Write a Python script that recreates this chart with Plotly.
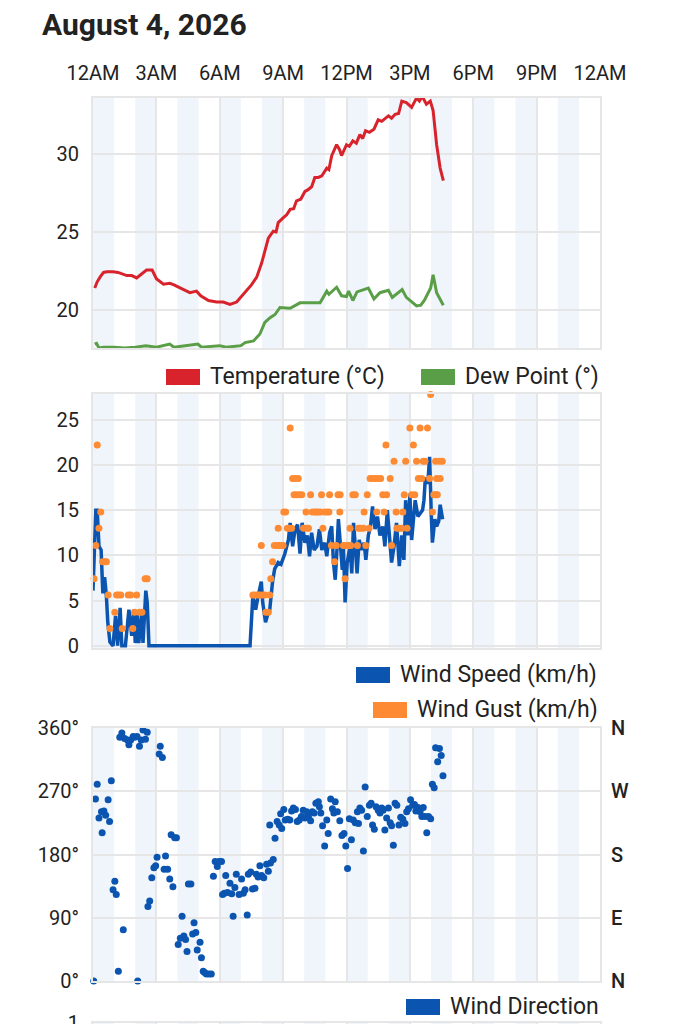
import plotly.graph_objects as go
import pandas as pd

DAY = "2026-08-04"
TITLE = "August 4, 2026"
TICK_HOURS = [0, 3, 6, 9, 12, 15, 18, 21, 24]
TICK_LABELS = ["12AM", "3AM", "6AM", "9AM", "12PM", "3PM", "6PM", "9PM", "12AM"]

# temperature / dew point (°C)
TEMP_TIMES = ["00:05", "00:12", "00:20", "00:30", "00:39", "00:57", "01:11", "01:22", "01:36", "01:50",
              "02:04", "02:18", "02:32", "02:48", "03:00", "03:20", "03:38", "03:50", "04:17", "04:35",
              "04:54", "05:06", "05:28", "05:51", "06:10", "06:29", "06:48", "07:07", "07:21", "07:30",
              "07:45", "07:59", "08:18", "08:32", "08:40", "08:46", "09:00", "09:10", "09:20", "09:30",
              "09:38", "09:50", "10:02", "10:10", "10:21", "10:30", "10:40", "10:50", "11:04", "11:10",
              "11:18", "11:32", "11:40", "11:46", "12:00", "12:08", "12:18", "12:28", "12:38", "12:46",
              "12:54", "13:05", "13:18", "13:30", "13:40", "13:50", "13:59", "14:08", "14:18", "14:28",
              "14:37", "14:50", "15:05", "15:12", "15:19", "15:27", "15:35", "15:47", "15:58", "16:06",
              "16:16", "16:26", "16:35"]
TEMP_C = [21.4, 21.8, 22.1, 22.4, 22.45, 22.45, 22.4, 22.3, 22.2, 22.2,
          22.05, 22.3, 22.55, 22.55, 22.0, 21.65, 21.7, 21.6, 21.3, 21.1,
          21.2, 20.9, 20.6, 20.5, 20.5, 20.35, 20.5, 21.0, 21.3, 21.6,
          22.1, 23.0, 24.6, 25.05, 25.0, 25.6, 25.9, 26.1, 26.45, 26.5,
          27.0, 27.1, 27.6, 27.7, 27.9, 28.5, 28.5, 28.6, 29.1, 29.0,
          29.9, 30.6, 30.3, 29.9, 30.6, 30.5, 30.85, 30.7, 31.25, 31.0,
          31.5, 31.4, 31.6, 32.2, 32.1, 32.3, 32.45, 32.3, 32.55, 32.6,
          33.4, 33.3, 33.0, 33.3, 33.6, 33.4, 33.7, 33.2, 33.4, 32.8,
          30.6, 29.1, 28.3]

DEW_TIMES = ["00:05", "00:10", "00:17", "00:30", "01:00", "01:30", "02:00", "02:30", "03:00", "03:38",
             "03:50", "04:20", "04:58", "05:08", "05:40", "06:00", "06:18", "07:00", "07:12", "07:36",
             "07:54", "08:08", "08:23", "08:37", "08:51", "09:20", "09:48", "10:45", "11:04", "11:10",
             "11:32", "11:46", "12:00", "12:06", "12:18", "12:30", "13:02", "13:18", "13:35", "13:59",
             "14:10", "14:38", "14:50", "15:19", "15:31", "15:41", "15:59", "16:06", "16:16", "16:35"]
DEW_C = [17.8, 17.85, 17.55, 17.6, 17.6, 17.55, 17.6, 17.7, 17.6, 17.8,
         17.6, 17.7, 17.8, 17.6, 17.65, 17.7, 17.6, 17.7, 17.9, 18.0,
         18.45, 19.2, 19.5, 19.7, 20.15, 20.1, 20.45, 20.45, 21.2, 21.0,
         21.45, 20.9, 20.85, 21.2, 20.6, 21.15, 21.4, 20.7, 21.1, 21.25,
         20.8, 21.3, 20.8, 20.25, 20.3, 20.6, 21.4, 22.25, 21.1, 20.3]

# wind speed / gust (km/h)
WIND_TIMES = ["00:00", "00:08", "00:12", "00:17", "00:23", "00:28", "00:33", "00:38", "00:42", "00:48",
              "00:57", "01:04", "01:10", "01:17", "01:22", "01:32", "01:42", "01:50", "01:56", "02:00",
              "02:05", "02:10", "02:18", "02:22", "02:30", "02:34", "02:39", "07:26", "07:34", "07:42",
              "07:48", "07:58", "08:02", "08:10", "08:15", "08:22", "08:30", "08:36", "08:46", "08:54",
              "09:05", "09:15", "09:20", "09:27", "09:34", "09:41", "09:48", "09:54", "10:02", "10:09",
              "10:15", "10:21", "10:28", "10:36", "10:43", "10:50", "10:58", "11:04", "11:12", "11:18",
              "11:23", "11:28", "11:32", "11:37", "11:43", "11:48", "11:51", "11:56", "12:02", "12:10",
              "12:15", "12:20", "12:25", "12:30", "12:36", "12:43", "12:50", "12:55", "13:02", "13:08",
              "13:14", "13:21", "13:28", "13:35", "13:43", "13:49", "13:56", "14:02", "14:08", "14:15",
              "14:22", "14:30", "14:37", "14:43", "14:48", "14:55", "15:00", "15:05", "15:10", "15:15",
              "15:23", "15:29", "15:36", "15:40", "15:44", "15:51", "15:56", "16:01", "16:04", "16:11",
              "16:16", "16:22", "16:26", "16:33"]
WIND_KMH = [6.1, 15.0, 15.0, 11.0, 10.6, 5.8, 7.6, 5.5, 2.6, 0.4,
            0.0, 3.3, 0.0, 4.2, 0.0, 0.0, 4.0, 1.1, 4.0, 0.3,
            3.6, 0.3, 3.6, 0.3, 6.1, 4.8, 0.0, 0.0, 5.5, 4.0,
            5.3, 7.1, 4.8, 2.6, 3.3, 4.0, 7.1, 8.5, 9.2, 9.0,
            10.2, 11.7, 13.6, 11.0, 12.9, 13.4, 10.2, 13.6, 11.4, 12.2,
            9.9, 12.5, 10.6, 11.0, 12.9, 10.6, 11.4, 9.9, 12.5, 13.2,
            9.2, 7.3, 9.9, 14.0, 11.0, 8.4, 11.4, 4.8, 9.2, 11.0,
            8.0, 13.6, 11.0, 8.0, 11.7, 10.6, 11.4, 9.5, 12.2, 13.2,
            15.4, 12.9, 14.3, 12.2, 13.2, 11.0, 15.0, 12.2, 9.2, 11.0,
            13.6, 8.8, 12.2, 9.5, 16.1, 12.2, 16.8, 11.7, 14.3, 16.1,
            14.3, 14.6, 15.0, 16.1, 18.6, 17.9, 20.9, 14.3, 11.4, 14.0,
            13.2, 13.8, 15.6, 14.0]

GUST_TIMES = ["00:03", "00:08", "00:12", "00:17", "00:22", "00:27", "00:34", "00:38", "00:43", "00:48",
              "01:02", "01:07", "01:12", "01:19", "01:23", "01:40", "01:47", "01:53", "01:58", "02:04",
              "02:12", "02:19", "02:28", "02:34", "07:34", "07:40", "07:47", "07:53", "07:58", "08:01",
              "08:08", "08:11", "08:18", "08:22", "08:25", "08:30", "08:35", "08:42", "08:46", "08:49",
              "08:55", "09:00", "09:02", "09:07", "09:12", "09:18", "09:20", "09:24", "09:27", "09:31",
              "09:34", "09:38", "09:43", "09:46", "09:53", "09:58", "10:05", "10:07", "10:12", "10:18",
              "10:23", "10:30", "10:35", "10:40", "10:46", "10:49", "10:53", "10:58", "11:05", "11:10",
              "11:12", "11:17", "11:26", "11:31", "11:36", "11:41", "11:42", "11:51", "11:56", "12:00",
              "12:05", "12:10", "12:12", "12:18", "12:25", "12:31", "12:34", "12:40", "12:48", "12:50",
              "12:55", "12:59", "13:04", "13:07", "13:14", "13:21", "13:26", "13:28", "13:37", "13:43",
              "13:47", "13:52", "13:54", "14:04", "14:08", "14:15", "14:21", "14:23", "14:30", "14:37",
              "14:40", "14:44", "14:48", "14:52", "15:00", "15:05", "15:10", "15:14", "15:19", "15:24",
              "15:29", "15:34", "15:38", "15:43", "15:50", "15:56", "15:59", "16:04", "16:08", "16:13",
              "16:14", "16:16", "16:18", "16:24", "16:26", "16:32"]
GUST_KMH = [7.4, 11.1, 22.2, 13.0, 14.8, 9.3, 9.3, 9.3, 5.6, 1.9,
            3.7, 5.6, 5.6, 5.6, 1.9, 5.6, 5.6, 1.9, 3.7, 5.6,
            3.7, 3.7, 7.4, 7.4, 5.6, 5.6, 5.6, 5.6, 11.1, 5.6,
            5.6, 3.7, 3.7, 5.6, 7.4, 9.3, 11.1, 11.1, 13.0, 11.1,
            11.1, 11.1, 14.8, 14.8, 13.0, 13.0, 24.1, 13.0, 18.5, 16.7,
            18.5, 16.7, 18.5, 16.7, 16.7, 13.0, 14.8, 13.0, 13.0, 16.7,
            14.8, 14.8, 14.8, 14.8, 14.8, 16.7, 13.0, 14.8, 14.8, 14.8,
            16.7, 11.1, 9.3, 11.1, 16.7, 14.8, 16.7, 11.1, 7.4, 11.1,
            11.1, 13.0, 11.1, 16.7, 16.7, 11.1, 13.0, 13.0, 13.0, 14.8,
            11.1, 16.7, 13.0, 18.5, 18.5, 18.5, 14.8, 18.5, 18.5, 16.7,
            14.8, 22.2, 16.7, 18.5, 11.1, 20.4, 14.8, 13.0, 13.0, 13.0,
            14.8, 16.7, 20.4, 13.0, 24.1, 16.7, 22.2, 16.7, 20.4, 18.5,
            24.1, 18.5, 20.4, 20.4, 24.1, 18.5, 27.8, 14.8, 16.7, 20.4,
            16.7, 18.5, 16.7, 20.4, 18.5, 20.4]

# wind direction (degrees)
DIR_TIMES = ["00:02", "00:07", "00:12", "00:17", "00:24", "00:26", "00:31", "00:36", "00:43", "00:47",
             "00:52", "00:57", "01:02", "01:06", "01:12", "01:16", "01:22", "01:26", "01:30", "01:38",
             "01:42", "01:47", "01:54", "01:58", "02:05", "02:07", "02:12", "02:17", "02:22", "02:29",
             "02:34", "02:36", "02:41", "02:47", "02:53", "02:58", "03:02", "03:08", "03:11", "03:17",
             "03:22", "03:26", "03:32", "03:38", "03:42", "03:47", "03:52", "03:57", "04:02", "04:08",
             "04:13", "04:18", "04:23", "04:27", "04:31", "04:38", "04:43", "04:47", "04:52", "04:56",
             "05:04", "05:08", "05:13", "05:17", "05:22", "05:29", "05:36", "05:42", "05:47", "05:53",
             "05:58", "06:05", "06:08", "06:13", "06:17", "06:22", "06:29", "06:34", "06:38", "06:43",
             "06:47", "06:55", "07:02", "07:07", "07:12", "07:18", "07:21", "07:28", "07:33", "07:40",
             "07:44", "07:49", "07:54", "07:59", "08:05", "08:13", "08:18", "08:22", "08:24", "08:32",
             "08:37", "08:43", "08:49", "08:53", "08:56", "09:02", "09:06", "09:13", "09:19", "09:24",
             "09:29", "09:35", "09:40", "09:46", "09:52", "09:57", "10:02", "10:07", "10:12", "10:18",
             "10:23", "10:28", "10:33", "10:40", "10:43", "10:47", "10:52", "10:58", "11:04", "11:08",
             "11:15", "11:20", "11:24", "11:28", "11:34", "11:41", "11:47", "11:53", "11:58", "12:03",
             "12:08", "12:14", "12:19", "12:25", "12:31", "12:34", "12:38", "12:43", "12:48", "12:53",
             "12:59", "13:05", "13:10", "13:14", "13:19", "13:24", "13:30", "13:35", "13:40", "13:44",
             "13:49", "13:54", "13:59", "14:04", "14:08", "14:13", "14:18", "14:23", "14:29", "14:34",
             "14:40", "14:46", "14:51", "14:56", "15:02", "15:08", "15:13", "15:17", "15:23", "15:29",
             "15:34", "15:38", "15:43", "15:48", "15:53", "15:59", "16:04", "16:09", "16:13", "16:19",
             "16:24", "16:29", "16:34"]
DIR_DEG = [0, 259, 280, 232, 241, 211, 242, 236, 258, 227,
           285, 130, 142, 123, 14, 347, 353, 73, 345, 343,
           336, 343, 348, 347, 348, 0, 334, 343, 357, 344,
           354, 106, 114, 147, 161, 164, 176, 323, 334, 318,
           159, 178, 159, 145, 208, 134, 204, 204, 52, 61,
           92, 64, 59, 42, 138, 138, 67, 83, 69, 44,
           55, 33, 14, 12, 10, 10, 10, 149, 170, 163,
           170, 170, 123, 125, 150, 126, 139, 124, 92, 133,
           152, 123, 145, 125, 130, 94, 152, 155, 131, 132,
           152, 148, 164, 150, 147, 166, 156, 222, 168, 173,
           203, 227, 222, 238, 217, 244, 229, 230, 229, 242,
           246, 244, 227, 229, 234, 243, 232, 241, 234, 228,
           241, 239, 253, 255, 248, 239, 221, 192, 229, 210,
           259, 245, 239, 255, 241, 228, 207, 210, 192, 160,
           231, 201, 229, 225, 241, 224, 246, 243, 185, 276,
           234, 250, 253, 222, 216, 248, 243, 239, 246, 243,
           215, 232, 246, 225, 221, 193, 253, 250, 222, 233,
           230, 224, 241, 245, 258, 250, 251, 242, 247, 241,
           234, 247, 234, 211, 234, 231, 280, 275, 332, 312,
           331, 321, 292]

DIR_TICKS = [0, 90, 180, 270, 360]
DIR_LEFT = ["0°", "90°", "180°", "270°", "360°"]
DIR_RIGHT = ["N", "E", "S", "W", "N"]

assert len(TEMP_TIMES) == len(TEMP_C)
assert len(DEW_TIMES) == len(DEW_C)
assert len(WIND_TIMES) == len(WIND_KMH)
assert len(GUST_TIMES) == len(GUST_KMH)
assert len(DIR_TIMES) == len(DIR_DEG)

RED = "#d8232c"
GREEN = "#5a9e47"
BLUE = "#0b55b1"
ORANGE = "#fe8b33"
BAND = "#eff5fa"
GRID = "#e6e6e6"
TEXT = "#222222"
FONT = "Roboto"

# page body has an 8px margin; the snapshot also comes out squeezed a little
# vertically, so screen y is converted back to page y with SQUEEZE
OFF = 8
SQUEEZE = 0.9875
W, H = 693 - OFF, 1032


def page_y(y):
    return y / SQUEEZE - OFF


L, R = 93 - OFF, W - (600 - OFF)
T, B = page_y(97), 0
PW, PH = W - L - R, H - T - B


def px_x(x):
    # screen pixel -> paper fraction
    return (x - OFF - L) / PW


def px_y(y):
    return (H - B - page_y(y)) / PH


def stamp(times):
    return pd.to_datetime([f"{DAY} {t}" for t in times])


def hour(h):
    return pd.Timestamp(DAY) + pd.Timedelta(hours=h)


X_RANGE = [hour(0), hour(24)]

fig = go.Figure()

fig.add_trace(go.Scatter(x=stamp(TEMP_TIMES), y=TEMP_C, mode="lines", name="Temperature (°C)",
                         line=dict(color=RED, width=3), xaxis="x", yaxis="y", showlegend=False))
fig.add_trace(go.Scatter(x=stamp(DEW_TIMES), y=DEW_C, mode="lines", name="Dew Point (°)",
                         line=dict(color=GREEN, width=3), xaxis="x", yaxis="y", showlegend=False))
fig.add_trace(go.Scatter(x=stamp(WIND_TIMES), y=WIND_KMH, mode="lines", name="Wind Speed (km/h)",
                         line=dict(color=BLUE, width=3.5), xaxis="x2", yaxis="y2", showlegend=False))
fig.add_trace(go.Scatter(x=stamp(GUST_TIMES), y=GUST_KMH, mode="markers", name="Wind Gust (km/h)",
                         marker=dict(color=ORANGE, size=7), cliponaxis=False,
                         xaxis="x2", yaxis="y2", showlegend=False))
fig.add_trace(go.Scatter(x=stamp(DIR_TIMES), y=DIR_DEG, mode="markers", name="Wind Direction",
                         marker=dict(color=BLUE, size=7), cliponaxis=False,
                         xaxis="x3", yaxis="y3", showlegend=False))
# empty traces so the compass axis and the cut-off fourth panel get drawn
fig.add_trace(go.Scatter(x=[hour(0)], y=[None], xaxis="x3", yaxis="y5", showlegend=False, hoverinfo="skip"))
fig.add_trace(go.Scatter(x=[hour(0)], y=[None], xaxis="x4", yaxis="y4", showlegend=False, hoverinfo="skip"))

panels = {
    "y": [px_y(347), 1],
    "y2": [px_y(647), px_y(393)],
    "y3": [px_y(980), px_y(727)],
    "y4": [0, px_y(1022)],
}

tick_font = dict(family=FONT, size=20, color=TEXT)
xcommon = dict(range=X_RANGE, tickvals=[hour(h) for h in TICK_HOURS], showgrid=True, gridcolor=GRID,
               gridwidth=2, showline=True, mirror=True, linecolor=GRID, linewidth=2, ticks="",
               zeroline=False, domain=[0, 1])
ycommon = dict(showgrid=True, gridcolor=GRID, gridwidth=2, showline=True, mirror=True, linecolor=GRID,
               linewidth=2, ticks="", zeroline=False, tickfont=tick_font, ticklabelstandoff=8)

fig.update_layout(
    xaxis=dict(xcommon, anchor="y", side="top", ticktext=TICK_LABELS, tickfont=tick_font,
               ticklabelstandoff=8),
    xaxis2=dict(xcommon, anchor="y2", showticklabels=False),
    xaxis3=dict(xcommon, anchor="y3", showticklabels=False),
    xaxis4=dict(xcommon, anchor="y4", showticklabels=False),
    yaxis=dict(ycommon, domain=panels["y"], anchor="x", range=[17.55, 33.6], tickvals=[20, 25, 30]),
    yaxis2=dict(ycommon, domain=panels["y2"], anchor="x2", range=[-0.25, 27.85],
                tickvals=[0, 5, 10, 15, 20, 25]),
    yaxis3=dict(ycommon, domain=panels["y3"], anchor="x3", range=[0, 360], tickvals=DIR_TICKS,
                ticktext=DIR_LEFT),
    yaxis5=dict(overlaying="y3", side="right", anchor="x3", range=[0, 360], tickvals=DIR_TICKS,
                ticktext=DIR_RIGHT, showgrid=False, zeroline=False, ticks="", ticklabelstandoff=10,
                tickfont=dict(family=FONT, size=20, color=TEXT, weight=500)),
    yaxis4=dict(ycommon, domain=panels["y4"], anchor="x4", range=[0, 1], tickvals=[1]),
)

# alternating hour bands
for ax in ["", "2", "3", "4"]:
    for h in range(0, 24, 2):
        fig.add_shape(type="rect", xref="x" + ax, yref=f"y{ax} domain", x0=hour(h), x1=hour(h + 1),
                      y0=0, y1=1, fillcolor=BAND, line_width=0, layer="below")

# legend boxes: rect left, rect right, centre y (screen pixels), colour, label
LEGEND = [
    (166, 200, 376, RED, "Temperature (°C)"),
    (421, 455, 376, GREEN, "Dew Point (°)"),
    (356, 390, 674, BLUE, "Wind Speed (km/h)"),
    (373, 407, 709, ORANGE, "Wind Gust (km/h)"),
    (406, 440, 1006, BLUE, "Wind Direction"),
]
for x0, x1, yc, color, label in LEGEND:
    fig.add_shape(type="rect", xref="paper", yref="paper", x0=px_x(x0), x1=px_x(x1),
                  y0=px_y(yc + 8), y1=px_y(yc - 8), fillcolor=color, line_width=0)
    fig.add_annotation(xref="paper", yref="paper", x=px_x(x1 + 8), y=px_y(yc), text=label,
                       showarrow=False, xanchor="left", yanchor="middle",
                       font=dict(family=FONT, size=23, color=TEXT))

fig.update_layout(
    width=W, height=H,
    margin=dict(l=L, r=R, t=T, b=B, pad=0),
    paper_bgcolor="white", plot_bgcolor="white",
    title=dict(text=TITLE, x=(42 - OFF) / W, xanchor="left", xref="container",
               y=1 - page_y(24) / H, yanchor="middle", yref="container",
               font=dict(family=FONT, size=30, color=TEXT, weight="bold")),
    showlegend=False,
)

fig.write_html("out.html")
